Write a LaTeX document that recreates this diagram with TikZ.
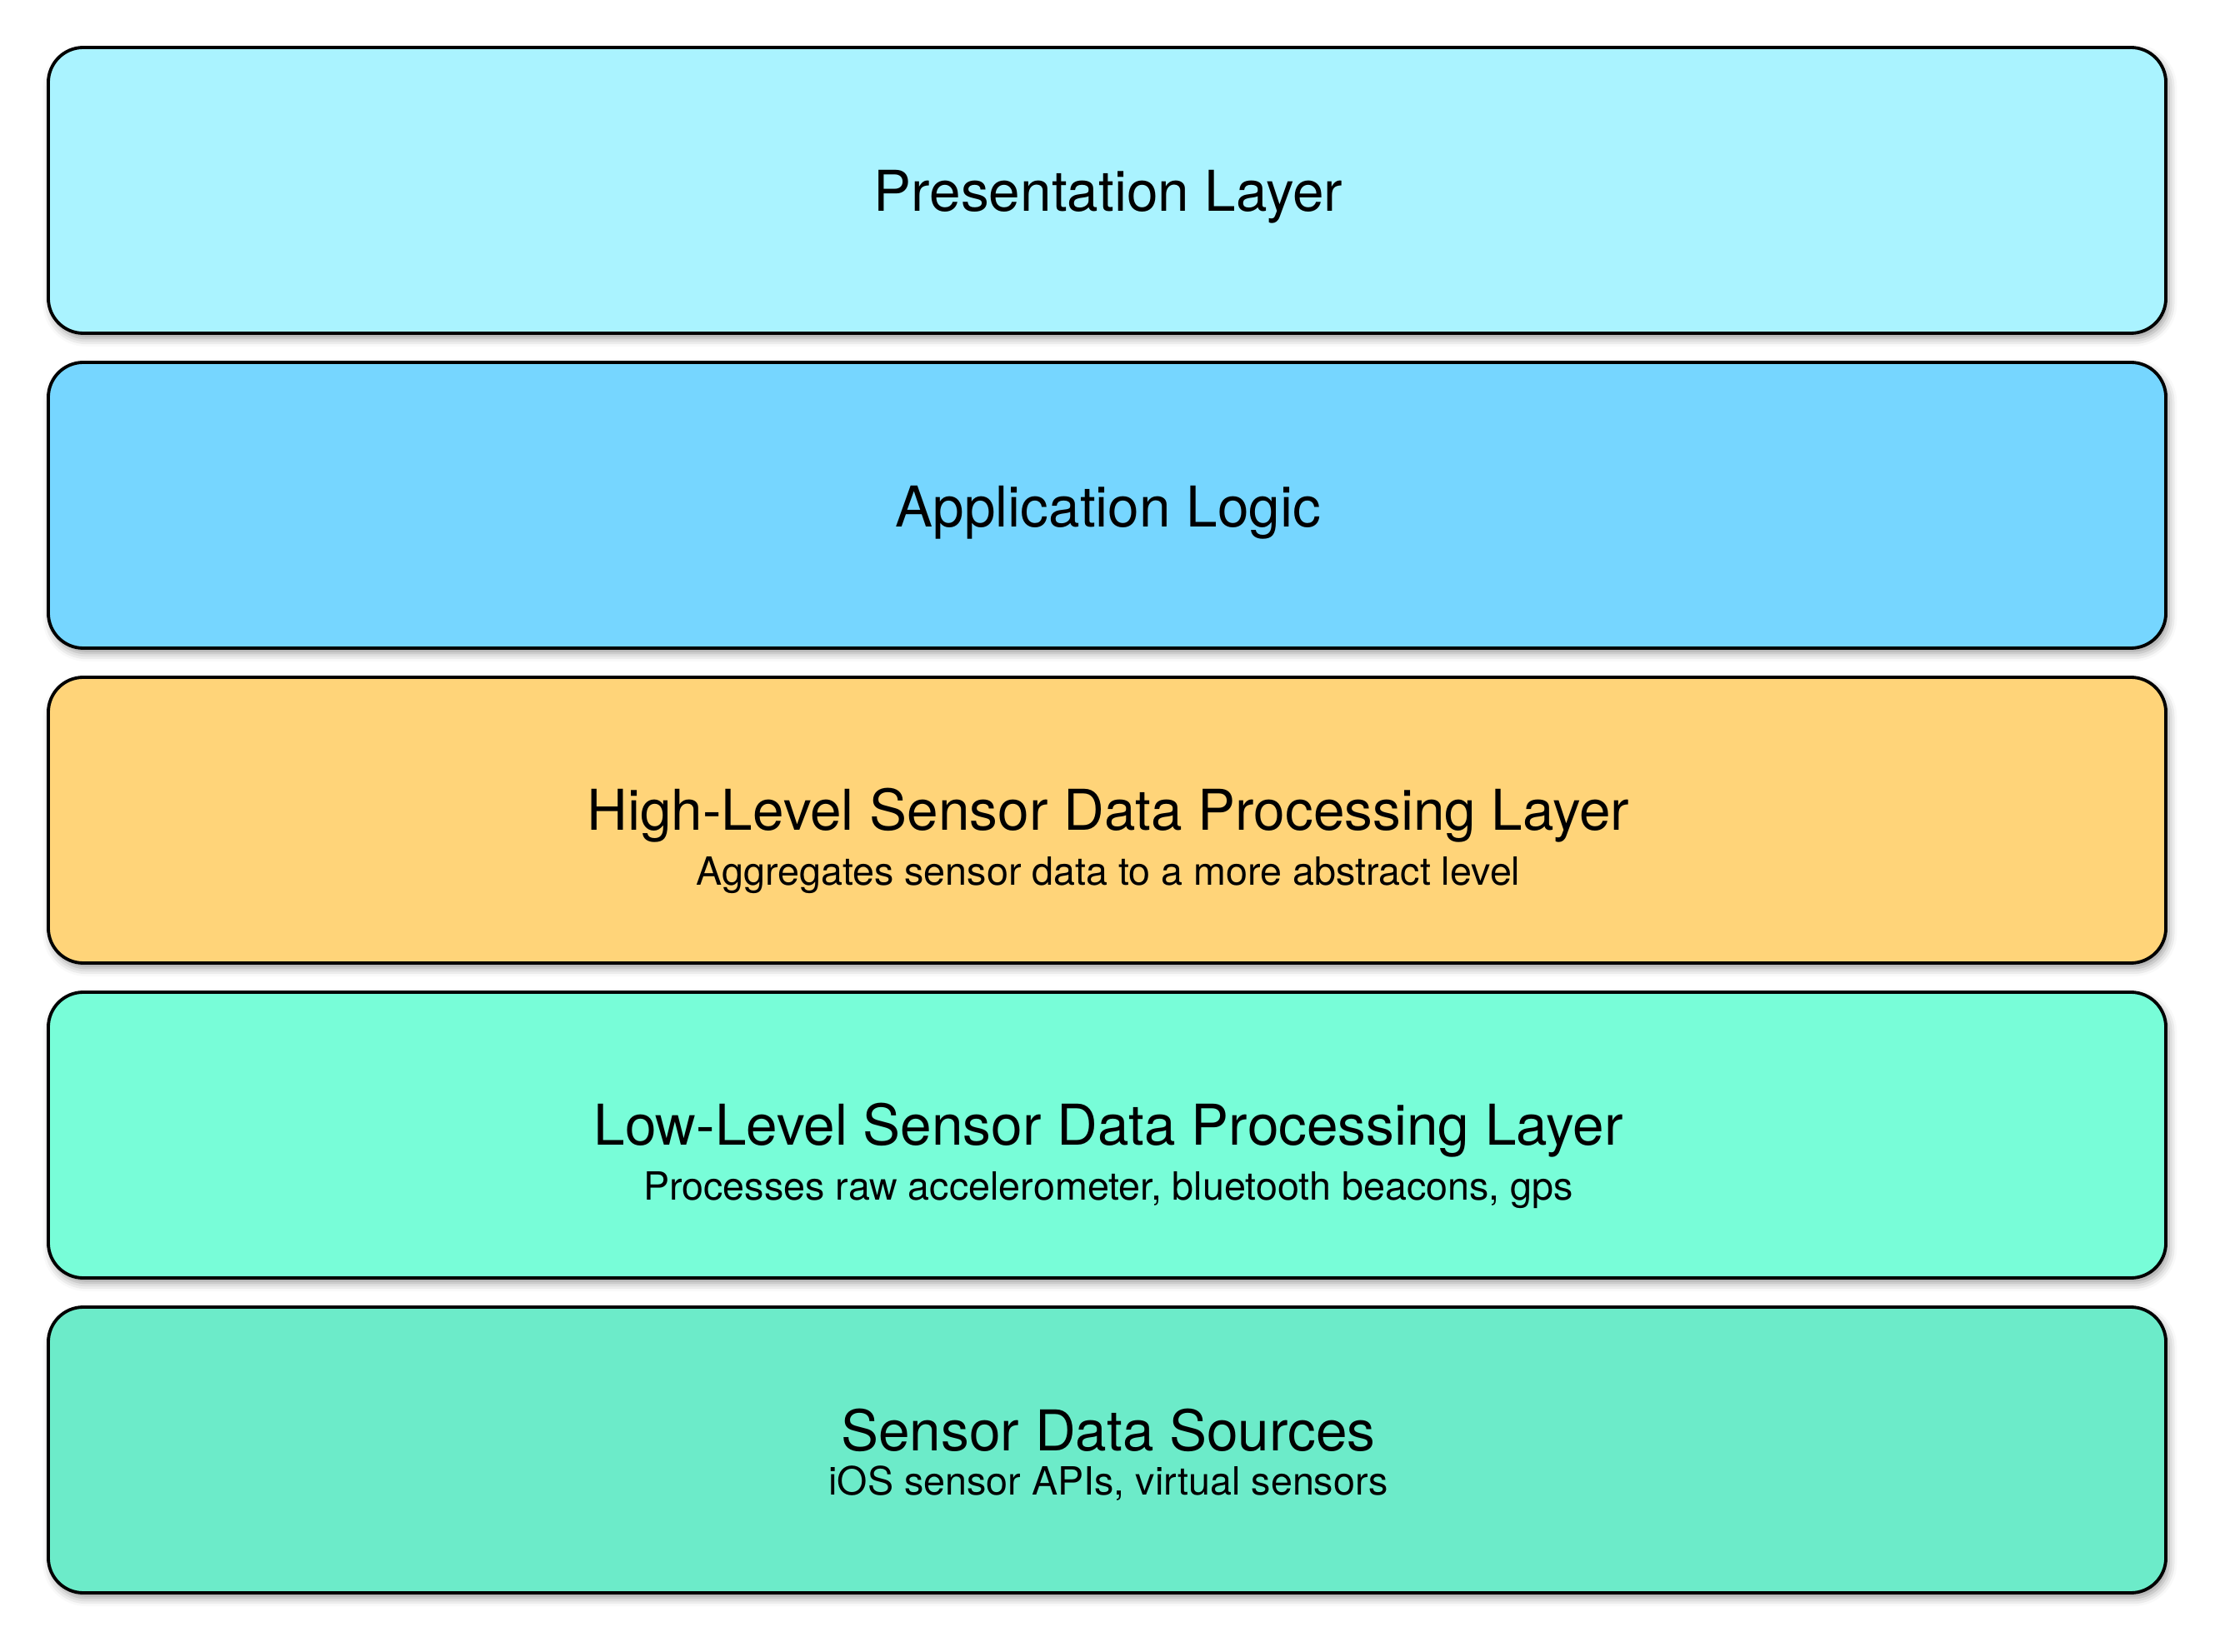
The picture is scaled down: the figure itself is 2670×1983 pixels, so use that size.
\documentclass[tikz,border=0pt]{standalone}
\usepackage{fontspec}
\setmainfont{TeX Gyre Heros}
\usetikzlibrary{shadows.blur}
\definecolor{cpres}{RGB}{170,243,255}
\definecolor{capp}{RGB}{118,214,255}
\definecolor{chigh}{RGB}{255,212,121}
\definecolor{clow}{RGB}{120,253,216}
\definecolor{csrc}{RGB}{108,235,201}
\tikzset{
  layerbox/.style={draw=black, line width=1.15bp, rounded corners=12.6bp,
    minimum width=762.3bp, minimum height=102.9bp, inner sep=0pt,
    blur shadow={shadow xshift=1bp, shadow yshift=-1.8bp, shadow blur radius=3bp, shadow opacity=40}},
  titletext/.style={anchor=base, inner sep=0pt, font=\fontsize{20.25bp}{24bp}\selectfont},
  subtext/.style={anchor=base, inner sep=0pt, font=\fontsize{14bp}{16bp}\selectfont}
}
\begin{document}
\begin{tikzpicture}[x=0.3bp, y=-0.3bp]
\useasboundingbox (0,0) rectangle (2670,1983);
\node[layerbox, fill=cpres] (pres) at (1328.5,228.5) {};
\node[layerbox, fill=capp] (app) at (1328.5,606.5) {};
\node[layerbox, fill=chigh] (high) at (1328.5,984.5) {};
\node[layerbox, fill=clow] (low) at (1328.5,1362.5) {};
\node[layerbox, fill=csrc] (src) at (1328.5,1740.5) {};
\node[titletext] (presT) at (1330,254) {Presentation Layer};
\node[titletext] (appT) at (1330,633) {Application Logic};
\node[titletext] (highT) at (1330,997) {High-Level Sensor Data Processing Layer};
\node[subtext] (highS) at (1330,1063) {Aggregates sensor data to a more abstract level};
\node[titletext] (lowT) at (1330,1374) {Low-Level Sensor Data Processing Layer};
\node[subtext] (lowS) at (1330,1440) {Processes raw accelerometer, bluetooth beacons, gps};
\node[titletext] (srcT) at (1330,1741) {Sensor Data Sources};
\node[subtext] (srcS) at (1330,1794) {iOS sensor APIs, virtual sensors};
\end{tikzpicture}
\end{document}
